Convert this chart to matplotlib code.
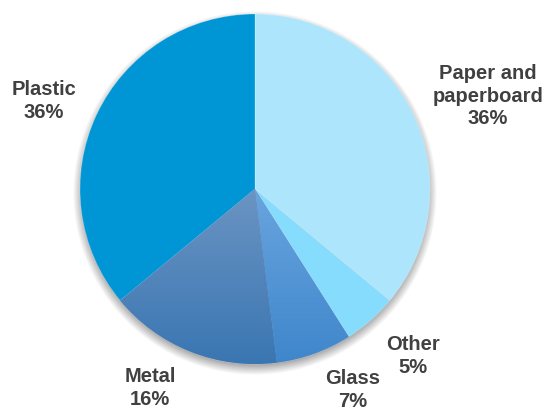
import numpy as np
import matplotlib
matplotlib.use("Agg")
import matplotlib.pyplot as plt
from matplotlib.colors import LinearSegmentedColormap

# ---- data ----
categories = ["Paper and\npaperboard", "Other", "Glass", "Metal", "Plastic"]
shares = [36, 5, 7, 16, 36]
pct_labels = ["36%", "5%", "7%", "16%", "36%"]

# ---- style ----
base_colors = ["#ade5fc", "#85dcfd", "#5598da", "#5184bd", "#0096d6"]
gradients = {2: ("#69a5df", "#3f86cb"), 3: ("#6b94c3", "#3a76b2")}
label_pos = [(488, 314), (413, 54), (353, 20), (150, 22), (44, 309)]
text_color = "#404040"

W, H = 548, 410
cx, cy, R = 255, 220, 175

plt.rcParams['font.family'] = ['Liberation Sans', 'DejaVu Sans']
fig = plt.figure(figsize=(W / 100, H / 100), dpi=100)
ax = fig.add_axes([0, 0, 1, 1])

# soft drop shadow
yy, xx = np.mgrid[0:H, 0:W]
d = np.hypot(xx + 0.5 - cx, (yy + 0.5) - (cy - 4))
alpha = np.clip((R + 7 - d) / 10.0, 0, 1) * 0.5
shadow = np.zeros((H, W, 4))
shadow[..., :3] = 0.35
shadow[..., 3] = alpha
ax.imshow(shadow, extent=(0, W, 0, H), origin='lower', zorder=0, interpolation='bilinear')

wedges, _ = ax.pie(shares, colors=base_colors, startangle=90, counterclock=False,
                   center=(cx, cy), radius=R,
                   wedgeprops=dict(linewidth=0.6, edgecolor=(1, 1, 1, 0.25)))
for w in wedges:
    w.set_zorder(2)

# vertical gradients for some wedges
for idx, (c_top, c_bot) in gradients.items():
    cmap = LinearSegmentedColormap.from_list("g%d" % idx, [c_bot, c_top])
    grad = np.linspace(0, 1, 256).reshape(-1, 1)
    im = ax.imshow(grad, cmap=cmap, extent=(cx - R, cx + R, cy - R, cy),
                   origin='lower', aspect='auto', zorder=2.5)
    im.set_clip_path(wedges[idx])

for (name, pct, (x, y)) in zip(categories, pct_labels, label_pos):
    ax.text(x, y, name + "\n" + pct, ha='center', va='center', fontsize=14.5,
            fontweight='bold', color=text_color, linespacing=1.22, zorder=5)

ax.set_xlim(0, W)
ax.set_ylim(0, H)
ax.set_aspect('equal')
ax.axis('off')
fig.savefig("out.png", dpi=100)
